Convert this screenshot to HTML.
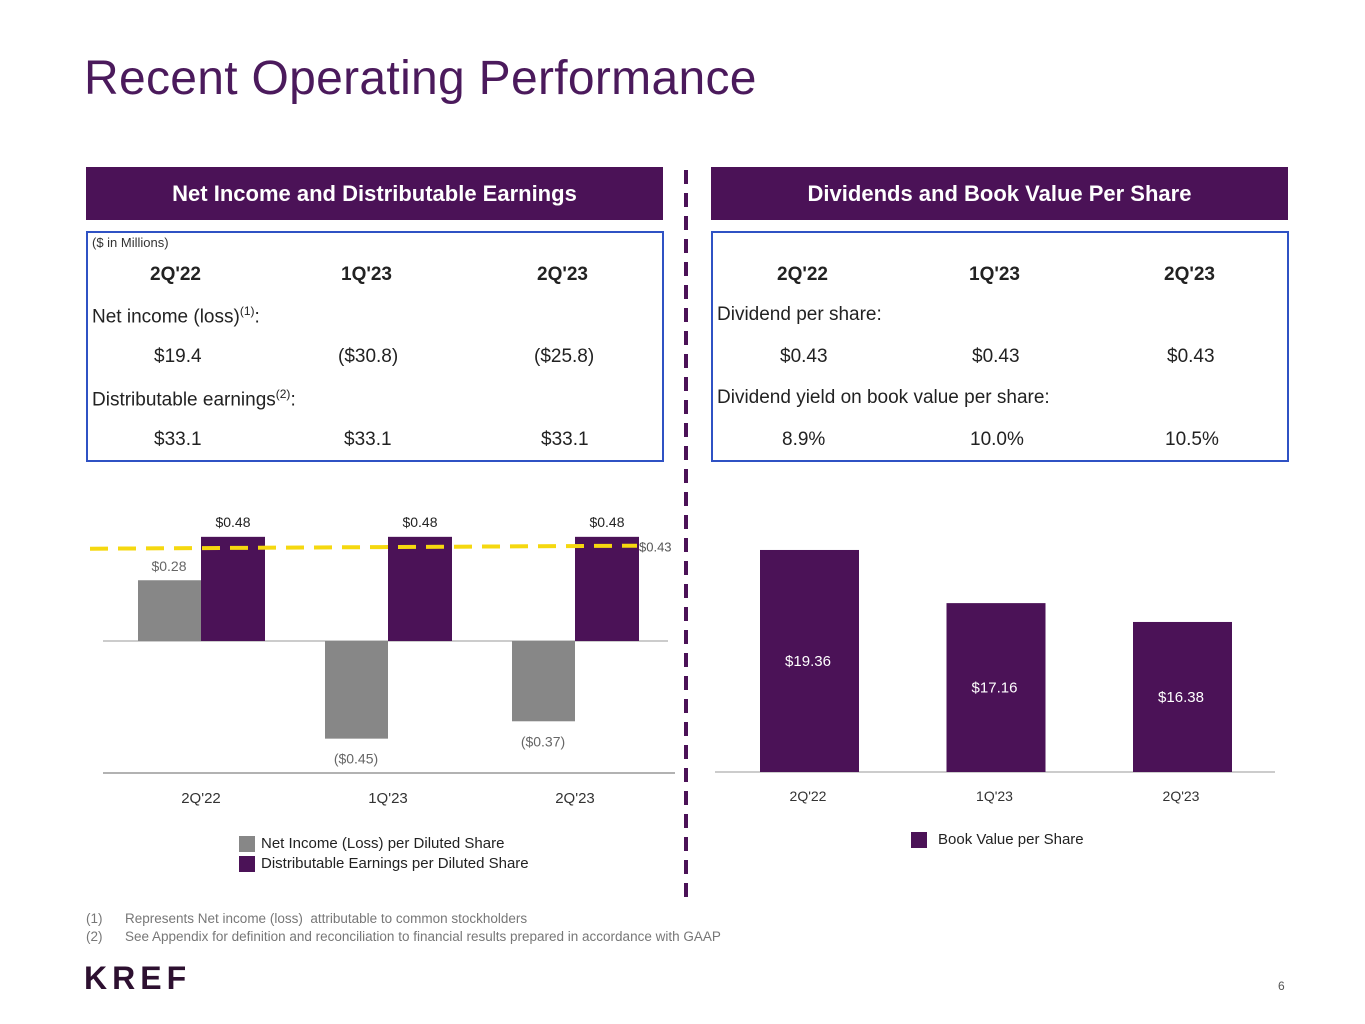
<!DOCTYPE html>
<html><head><meta charset="utf-8"><style>
body{margin:0;width:1365px;height:1024px;background:#fff;font-family:"Liberation Sans",sans-serif;position:relative;overflow:hidden}
.a{position:absolute;white-space:nowrap}
.hdr{position:absolute;top:167px;height:53px;background:#4b1257;color:#fff;font-weight:bold;font-size:22px;text-align:center;line-height:53px}
.box{position:absolute;top:231px;height:228px;border:2px solid #2f52c4;box-sizing:border-box}
.t{font-size:19px;color:#222}
.b{font-weight:bold}
</style></head><body>
<div class="a" style="left:84px;top:51px;font-size:48px;color:#4b1a5c;letter-spacing:0.3px">Recent Operating Performance</div>
<div class="hdr" style="left:86px;width:577px">Net Income and Distributable Earnings</div>
<div class="hdr" style="left:711px;width:577px">Dividends and Book Value Per Share</div>
<div class="box" style="left:86px;width:578px;height:231px"></div>
<div class="box" style="left:711px;width:578px;height:231px"></div>
<div class="a" style="left:92px;top:235px;font-size:13px;color:#333">($ in Millions)</div>
<div class="a t b" style="left:150px;top:264px">2Q'22</div>
<div class="a t b" style="left:341px;top:264px">1Q'23</div>
<div class="a t b" style="left:537px;top:264px">2Q'23</div>
<div class="a t" style="left:92px;top:304px">Net income (loss)<sup style="font-size:12px">(1)</sup>:</div>
<div class="a t" style="left:154px;top:346px">$19.4</div>
<div class="a t" style="left:338px;top:346px">($30.8)</div>
<div class="a t" style="left:534px;top:346px">($25.8)</div>
<div class="a t" style="left:92px;top:387px">Distributable earnings<sup style="font-size:12px">(2)</sup>:</div>
<div class="a t" style="left:154px;top:429px">$33.1</div>
<div class="a t" style="left:344px;top:429px">$33.1</div>
<div class="a t" style="left:541px;top:429px">$33.1</div>
<div class="a t b" style="left:777px;top:264px">2Q'22</div>
<div class="a t b" style="left:969px;top:264px">1Q'23</div>
<div class="a t b" style="left:1164px;top:264px">2Q'23</div>
<div class="a t" style="left:717px;top:304px">Dividend per share:</div>
<div class="a t" style="left:780px;top:346px">$0.43</div>
<div class="a t" style="left:972px;top:346px">$0.43</div>
<div class="a t" style="left:1167px;top:346px">$0.43</div>
<div class="a t" style="left:717px;top:387px">Dividend yield on book value per share:</div>
<div class="a t" style="left:782px;top:429px">8.9%</div>
<div class="a t" style="left:970px;top:429px">10.0%</div>
<div class="a t" style="left:1165px;top:429px">10.5%</div>

<svg id="divider" class="a" style="left:0;top:0" width="1365" height="1024">
<line x1="686" y1="170" x2="686" y2="902" stroke="#4b1257" stroke-width="4" stroke-dasharray="14,9"/>
</svg>
<svg id="left" class="a" style="left:0;top:0" width="1365" height="1024"></svg>
<svg id="right" class="a" style="left:0;top:0" width="1365" height="1024"></svg>

<div class="a" style="left:239px;top:836px;width:16px;height:16px;background:#878787"></div>
<div class="a" style="left:261px;top:835px;font-size:15px;color:#222">Net Income (Loss) per Diluted Share</div>
<div class="a" style="left:239px;top:856px;width:16px;height:16px;background:#4b1257"></div>
<div class="a" style="left:261px;top:855px;font-size:15px;color:#222">Distributable Earnings per Diluted Share</div>
<div class="a" style="left:911px;top:832px;width:16px;height:16px;background:#4b1257"></div>
<div class="a" style="left:938px;top:831px;font-size:15px;color:#222">Book Value per Share</div>

<div class="a" style="left:86px;top:911px;font-size:13.5px;color:#777">(1)&nbsp;&nbsp;&nbsp;&nbsp;&nbsp;&nbsp;Represents Net income (loss)&nbsp; attributable to common stockholders</div>
<div class="a" style="left:86px;top:929px;font-size:13.5px;color:#777">(2)&nbsp;&nbsp;&nbsp;&nbsp;&nbsp;&nbsp;See Appendix for definition and reconciliation to financial results prepared in accordance with GAAP</div>
<div class="a" style="left:84px;top:960px;font-size:32px;font-weight:bold;color:#2d1030;letter-spacing:5px">KREF</div>
<div class="a" style="left:1278px;top:979px;font-size:12px;color:#555">6</div>

<script>
const categories=["2Q'22","1Q'23","2Q'23"];
const netIncome=[0.28,-0.45,-0.37];
const netIncomeLabels=["$0.28","($0.45)","($0.37)"];
const distEarnings=[0.48,0.48,0.48];
const distLabels=["$0.48","$0.48","$0.48"];
const dividend=0.43;
const bookValue=[19.36,17.16,16.38];
const bookLabels=["$19.36","$17.16","$16.38"];
const NS="http://www.w3.org/2000/svg";
function mk(svg,tag,attrs,text){const e=document.createElementNS(NS,tag);for(const k in attrs)e.setAttribute(k,attrs[k]);if(text!==undefined)e.textContent=text;svg.appendChild(e);return e;}
const L=document.getElementById('left');
const zeroY=641, ppu=217;
const yL=v=>zeroY-v*ppu;
const groupX=i=>138+i*187;
mk(L,'line',{x1:103,y1:zeroY,x2:668,y2:zeroY,stroke:'#bbb','stroke-width':1.5});
mk(L,'line',{x1:103,y1:773,x2:675,y2:773,stroke:'#999','stroke-width':1.5});
categories.forEach((c,i)=>{
  const x=groupX(i),v=netIncome[i];
  const r=mk(L,'rect',{x:x,y:Math.min(yL(v),zeroY),width:63,height:Math.abs(v*ppu),fill:'#878787'});
  
  
  const ty=v>=0?yL(v)-9:yL(v)+25;
  mk(L,'text',{x:x+31,y:ty,'text-anchor':'middle','font-size':14,fill:'#666'},netIncomeLabels[i]);
  const d=distEarnings[i];
  const r2=mk(L,'rect',{x:x+63,y:yL(d),width:64,height:d*ppu,fill:'#4b1257'});
  
  
  mk(L,'text',{x:x+95,y:yL(d)-10,'text-anchor':'middle','font-size':14,fill:'#222'},distLabels[i]);
  mk(L,'text',{x:x+63,y:803,'text-anchor':'middle','font-size':15,fill:'#333'},c);
});
const dl=mk(L,'line',{x1:90,y1:yL(dividend)+1,x2:637,y2:yL(dividend)-2,stroke:'#f5d80f','stroke-width':4,'stroke-dasharray':'18,10'});


mk(L,'text',{x:639,y:yL(dividend)+4,'font-size':13,fill:'#555'},'$0.43');
const R=document.getElementById('right');
const base=772, bmin=10.17, bppu=24.16;
const yR=v=>base-(v-bmin)*bppu;
mk(R,'line',{x1:715,y1:base,x2:1275,y2:base,stroke:'#bbb','stroke-width':1.5});
categories.forEach((c,i)=>{
  const x=760+i*186.5,v=bookValue[i];
  const r=mk(R,'rect',{x:x,y:yR(v),width:99,height:base-yR(v),fill:'#4b1257'});
  
  
  mk(R,'text',{x:x+48,y:(yR(v)+base)/2+5,'text-anchor':'middle','font-size':15,fill:'#fff'},bookLabels[i]);
  mk(R,'text',{x:x+48,y:801,'text-anchor':'middle','font-size':14,fill:'#333'},c);
});
</script>
</body></html>
